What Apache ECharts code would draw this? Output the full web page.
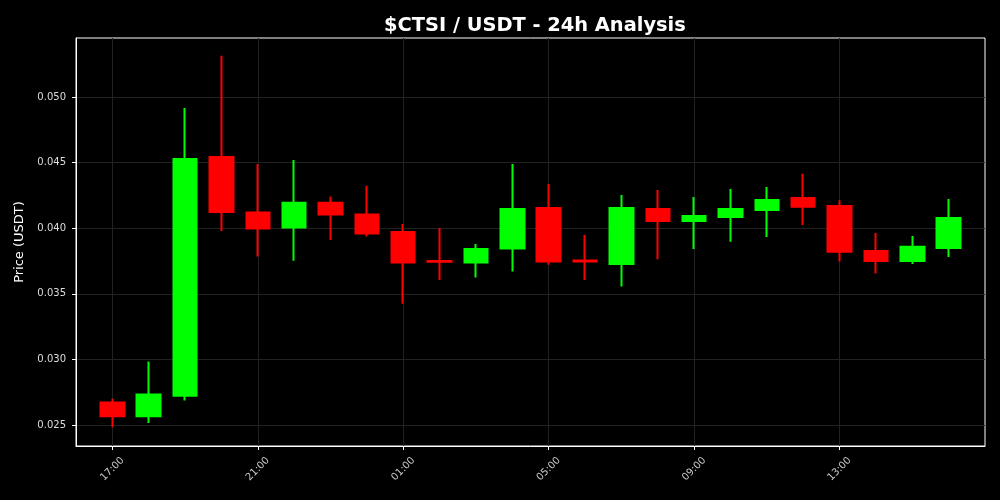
<!DOCTYPE html>
<html>
<head>
<meta charset="utf-8">
<script src="https://cdn.jsdelivr.net/npm/echarts@6/dist/echarts.min.js"></script>
<style>
html,body{margin:0;padding:0;background:#000;}
#chart{width:1000px;height:500px;}
</style>
</head>
<body>
<div id="chart"></div>
<script>
const times = ['17:00','18:00','19:00','20:00','21:00','22:00','23:00','00:00','01:00','02:00','03:00','04:00',
               '05:00','06:00','07:00','08:00','09:00','10:00','11:00','12:00','13:00','14:00','15:00','16:00'];
const opens  = [0.02672,0.02566,0.02723,0.04543,0.04119,0.04005,0.04195,0.04104,0.03972,0.03751,0.03738,0.03845,
                0.04155,0.03754,0.03728,0.04147,0.04056,0.04086,0.04139,0.04231,0.04170,0.03827,0.03751,0.03850];
const closes = [0.02566,0.02733,0.04528,0.04124,0.03997,0.04195,0.04104,0.03959,0.03738,0.03744,0.03842,0.04147,
                0.03746,0.03746,0.04155,0.04056,0.04094,0.04147,0.04215,0.04164,0.03820,0.03751,0.03858,0.04078];
const highs  = [0.02700,0.02984,0.04916,0.05314,0.04490,0.04520,0.04241,0.04324,0.04033,0.04002,0.03880,0.04490,
                0.04337,0.03949,0.04254,0.04292,0.04238,0.04299,0.04314,0.04416,0.04213,0.03964,0.03941,0.04223];
const lows   = [0.02482,0.02515,0.02687,0.03979,0.03784,0.03753,0.03911,0.03936,0.03424,0.03606,0.03624,0.03670,
                0.03721,0.03606,0.03555,0.03764,0.03842,0.03896,0.03934,0.04025,0.03746,0.03654,0.03728,0.03781];
const yTicks = [0.025,0.030,0.035,0.040,0.045,0.050];

const cats = [''].concat(times, ['']);
const ohlc = ['-'].concat(times.map((t,i)=>[opens[i],closes[i],lows[i],highs[i]]), ['-']);
const showIdx = (idx, val) => val !== '' && (idx - 1) % 4 === 0;
const FONT = 'DejaVu Sans';

const chart = echarts.init(document.getElementById('chart'), null, {renderer:'canvas'});
chart.setOption({
  backgroundColor:'#000',
  animation:false,
  title:{
    text:'$CTSI / USDT - 24h Analysis',
    left:379, top:11,
    textStyle:{color:'#fff',fontSize:19.4,fontWeight:'bold',fontFamily:FONT}
  },
  grid:{left:76,right:15,top:38,bottom:54,show:true,borderColor:'#fff',borderWidth:1,backgroundColor:'#000'},
  xAxis:{
    type:'category',
    data:cats,
    boundaryGap:false,
    axisLine:{show:true,lineStyle:{color:'#fff',width:1}},
    axisTick:{show:true,interval:showIdx,length:4,lineStyle:{color:'#fff'}},
    axisLabel:{interval:showIdx,rotate:45,align:'center',verticalAlign:'middle',
               color:'#ccc',fontSize:10,fontFamily:FONT,margin:23},
    splitLine:{show:true,interval:showIdx,lineStyle:{color:'#222',width:1}}
  },
  yAxis:{
    type:'value',
    min:0.0234, max:0.0545,
    name:'Price (USDT)',
    nameLocation:'middle',
    nameGap:50,
    nameRotate:90,
    nameTextStyle:{color:'#fff',fontSize:13,fontFamily:FONT},
    axisLine:{show:true,lineStyle:{color:'#fff',width:1}},
    axisTick:{show:true,length:4,customValues:yTicks,lineStyle:{color:'#fff'}},
    axisLabel:{customValues:yTicks,color:'#ddd',fontSize:10,fontFamily:FONT,margin:10,
               formatter:v=>v.toFixed(3)},
    splitLine:{show:true,lineStyle:{color:'#222',width:1}}
  },
  series:[{
    type:'candlestick',
    data:ohlc,
    barWidth:24,
    itemStyle:{color:'#00ff00',color0:'#ff0000',borderColor:'#00ff00',borderColor0:'#ff0000',borderWidth:2}
  }]
});
</script>
</body>
</html>
